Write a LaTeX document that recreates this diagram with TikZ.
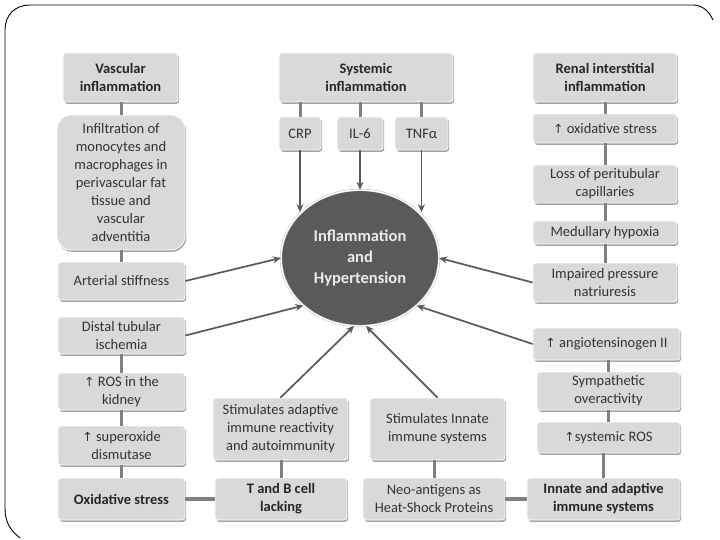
\documentclass[tikz,border=0pt]{standalone}
\usepackage{fontspec}
\setmainfont{Carlito}
\newfontfamily\symfont{DejaVu Sans}
\usetikzlibrary{shapes.geometric,shadows,arrows.meta}
\definecolor{boxgray}{HTML}{D9D9D9}
\definecolor{txtgray}{HTML}{333333}
\definecolor{linegray}{HTML}{808080}
\definecolor{arrgray}{HTML}{595959}
\definecolor{hubgray}{HTML}{5A5A5A}
\newcommand{\up}{{\symfont\fontsize{12.5}{18}\selectfont ↑}}
\begin{document}
\begin{tikzpicture}[x=1pt,y=-1pt,
  box/.style={rectangle,rounded corners=3pt,fill=boxgray,draw=white,line width=0.8pt,
    drop shadow={shadow xshift=1.2pt,shadow yshift=-1.8pt,fill=black!45,opacity=0.8},
    text=txtgray,align=center,inner sep=1pt,font=\fontsize{14.5}{18}\selectfont},
  title/.style={box,font=\fontsize{14.5}{18}\selectfont\bfseries,text=black!85},
  link/.style={linegray,line width=3pt},
  push/.style={arrgray,line width=1.7pt,-{Stealth[length=8pt,width=7pt]}}]
\useasboundingbox (0,0) rectangle (720,540);
% slide frame
\draw[line width=0.9pt] (20,538) .. controls (10,530) and (5,522) .. (5,508) -- (5,30)
  .. controls (5,15) and (15,5) .. (30,5) -- (693,5) .. controls (702,5) and (709,11) .. (713,20);
% hub
\node[ellipse,fill=hubgray,draw=gray!60,double=white,double distance=1.4pt,
  minimum width=158,minimum height=136,text=white!92!black,align=center,
  font=\fontsize{16.5}{21}\selectfont\bfseries] (hyp) at (360,258)
  {Inflammation\\and\\Hypertension};
% left column
\node[title,minimum width=115,minimum height=49] (vasc) at (120.5,77.5) {Vascular\\inflammation};
\node[box,rounded corners=14pt,minimum width=128,minimum height=135] (infil) at (121,182.5)
  {Infiltration of\\monocytes and\\macrophages in\\perivascular fat\\tissue and\\vascular\\adventitia};
\node[box,minimum width=127,minimum height=38] (arter) at (121.5,281) {Arterial stiffness};
\node[box,minimum width=127,minimum height=37] (distal) at (121.5,335.5) {Distal tubular\\ischemia};
\node[box,minimum width=127,minimum height=37] (rosk) at (121.5,391.5) {\up{} ROS in the\\kidney};
\node[box,minimum width=127,minimum height=39] (superox) at (121.5,445.5) {\up{} superoxide\\dismutase};
\node[title,minimum width=127,minimum height=42] (oxstress) at (121.5,499) {Oxidative stress};
% top middle
\node[title,minimum width=174,minimum height=49] (syst) at (366,77.5) {Systemic\\inflammation};
\node[box,minimum width=42,minimum height=33] (crp) at (300,133.5) {CRP};
\node[box,minimum width=46,minimum height=33] (il6) at (360,133.5) {IL-6};
\node[box,minimum width=53,minimum height=33] (tnf) at (421.5,133.5) {TNFα};
% right column
\node[title,minimum width=144,minimum height=49] (renal) at (605,77.5) {Renal interstitial\\inflammation};
\node[box,minimum width=144,minimum height=29] (oxid) at (605,128.5) {\up{} oxidative stress};
\node[box,minimum width=144,minimum height=38] (losspc) at (605,184) {Loss of peritubular\\capillaries};
\node[box,minimum width=144,minimum height=23] (medul) at (605,232.5) {Medullary hypoxia};
\node[box,minimum width=144,minimum height=39] (impair) at (605,282.5) {Impaired pressure\\natriuresis};
\node[box,minimum width=147,minimum height=32] (angio) at (606.5,344) {\up{} angiotensinogen II};
\node[box,minimum width=143,minimum height=38] (symp) at (608.5,391) {Sympathetic\\overactivity};
\node[box,minimum width=143,minimum height=31] (sros) at (608.5,437.5) {\up{}systemic ROS};
\node[title,minimum width=153,minimum height=42] (innadp) at (603.5,499) {Innate and adaptive\\immune systems};
% bottom middle
\node[box,minimum width=135,minimum height=62] (stimad) at (280.5,429) {Stimulates adaptive\\immune reactivity\\and autoimmunity};
\node[box,minimum width=135,minimum height=62] (stimin) at (437.5,429) {Stimulates Innate\\immune systems};
\node[title,minimum width=132,minimum height=42] (tbcell) at (281,499) {T and B cell\\lacking};
\node[box,minimum width=142,minimum height=42] (neo) at (434,499) {Neo-antigens as\\Heat-Shock Proteins};
% links
\foreach \a/\b in {vasc/infil,infil/arter,distal/rosk,rosk/superox,superox/oxstress,
  syst/crp,syst/il6,syst/tnf,renal/oxid,oxid/losspc,losspc/medul,medul/impair,
  angio/symp,symp/sros,sros/innadp,stimad/tbcell,stimin/neo}
  \draw[link] (\b.north) -- (\b.north |- \a.south);
\draw[link,line width=4pt] (oxstress) -- (tbcell);
\draw[link,line width=4pt] (neo) -- (innadp);
% arrows into the hub
\draw[push] (crp.south) -- (crp.south |- hyp.142);
\draw[push] (il6.south) -- (hyp.north);
\draw[push] (tnf.south) -- (tnf.south |- hyp.38);
\draw[push] (arter.east) -- (hyp.180);
\draw[push] (distal.east) -- (hyp.220);
\draw[push] (stimad.north) -- (hyp.265);
\draw[push] (stimin.north) -- (hyp.275);
\draw[push] (impair.west) -- (hyp.0);
\draw[push] (angio.west) -- (hyp.320);
\end{tikzpicture}
\end{document}
